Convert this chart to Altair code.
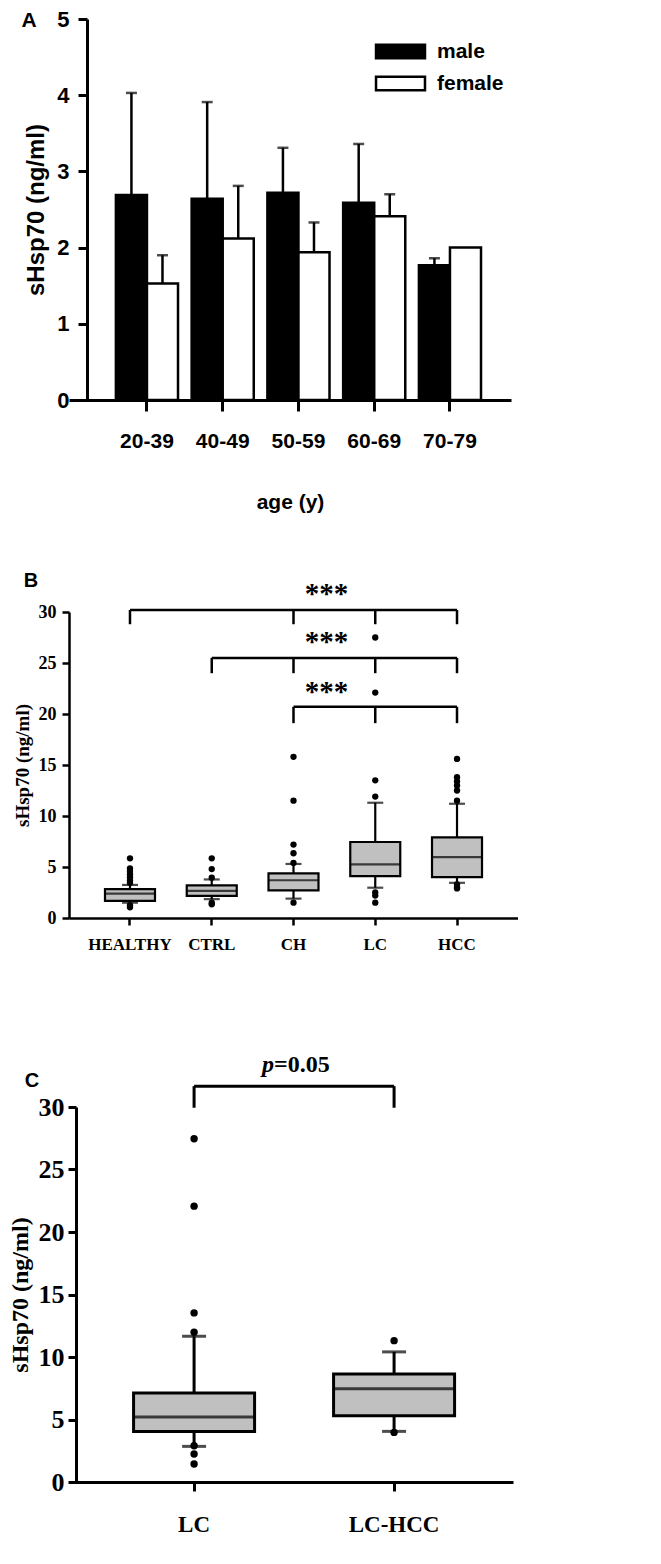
import altair as alt
import pandas as pd

SANS = "Liberation Sans, Arial, Helvetica, sans-serif"
SERIF = "Liberation Serif, Times New Roman, serif"

# ---------------- Panel A data ----------------
ages = ["20-39", "40-49", "50-59", "60-69", "70-79"]
sexes = ["male", "female"]
male_mean = [2.69, 2.64, 2.72, 2.59, 1.77]
male_upper = [4.03, 3.91, 3.31, 3.36, 1.86]
female_mean = [1.53, 2.12, 1.94, 2.41, 2.00]
female_upper = [1.90, 2.81, 2.33, 2.70, None]

# ---------------- Panel B data ----------------
groups_b = ["HEALTHY", "CTRL", "CH", "LC", "HCC"]
q1_b = [1.67, 2.16, 2.70, 4.10, 4.00]
med_b = [2.38, 2.65, 3.70, 5.26, 5.97]
q3_b = [2.84, 3.20, 4.37, 7.45, 7.90]
wlo_b = [1.50, 1.85, 1.90, 2.97, 3.45]
whi_b = [3.24, 3.78, 5.30, 11.30, 11.20]
out_healthy = [5.85, 4.85, 4.60, 4.30, 4.00, 3.70, 3.45, 1.25, 1.05]
out_ctrl = [5.85, 4.80, 3.95, 1.50, 1.35]
out_ch = [15.8, 11.5, 7.20, 6.35, 5.40, 1.50]
out_lc = [27.5, 22.1, 13.5, 11.9, 2.50, 2.20, 1.50]
out_hcc = [15.6, 13.8, 13.4, 13.0, 12.5, 11.5, 3.30, 3.00, 2.90]
brk_start_b = ["HEALTHY", "CTRL", "CH"]
brk_level_b = [30.2, 25.5, 20.7]
brk_drop_b = [28.8, 24.0, 19.1]
brk_members_b = [["HEALTHY", "CH", "LC", "HCC"], ["CTRL", "CH", "LC", "HCC"], ["CH", "LC", "HCC"]]
star_y_b = [31.8, 27.1, 22.2]

# ---------------- Panel C data ----------------
groups_c = ["LC", "LC-HCC"]
q1_c = [4.05, 5.31]
med_c = [5.20, 7.47]
q3_c = [7.13, 8.65]
wlo_c = [2.85, 4.05]
whi_c = [11.66, 10.41]
out_lc_c = [27.46, 22.07, 13.53, 11.98, 2.90, 2.24, 1.44]
out_lchcc_c = [11.31, 3.97]
brk_level_c = 31.67
brk_drop_c = 29.94
pval_y_c = 33.4

# ======================= Panel A =======================
rows_a = []
for i, a in enumerate(ages):
    rows_a.append({"age": a, "sex": "male", "mean": male_mean[i], "upper": male_upper[i]})
    rows_a.append({"age": a, "sex": "female", "mean": female_mean[i], "upper": female_upper[i]})
df_a = pd.DataFrame(rows_a)
df_a_err = df_a.dropna(subset=["upper"])

xa = alt.X("age:N", sort=ages,
           scale=alt.Scale(domain=ages, paddingInner=0.18, paddingOuter=0.5075, align=0.61),
           axis=alt.Axis(title="age (y)", labelAngle=0, labelFont=SANS, labelFontSize=21,
                         labelFontWeight="bold", labelColor="black", labelPadding=19,
                         tickSize=11, tickWidth=3, tickColor="black", domainColor="black",
                         domainWidth=3, titleFont=SANS, titleFontSize=21, titleFontWeight="bold",
                         titleColor="black", titlePadding=40, grid=False))
xoa = alt.XOffset("sex:N", sort=sexes, scale=alt.Scale(domain=sexes, paddingInner=0, paddingOuter=0))
ya_axis = alt.Axis(title="sHsp70 (ng/ml)", values=[0, 1, 2, 3, 4, 5], format="d", offset=-18,
                   labelFont=SANS, labelFontSize=22, labelFontWeight="bold", labelColor="black",
                   labelPadding=9, tickSize=9, tickWidth=3, tickColor="black", domainColor="black",
                   domainWidth=3, titleFont=SANS, titleFontSize=24, titleFontWeight="bold",
                   titleColor="black", titlePadding=8, grid=False)
ya = alt.Y("mean:Q", scale=alt.Scale(domain=[0, 5], nice=False), axis=ya_axis)

color_a = alt.Color("sex:N", sort=sexes,
                    scale=alt.Scale(domain=sexes, range=["black", "white"]),
                    legend=alt.Legend(title=None, orient="none", legendX=318, legendY=19,
                                      symbolType="M-2.04,-0.57H2.04V0.57H-2.04Z", symbolSize=576,
                                      symbolStrokeColor="black", symbolStrokeWidth=2.5,
                                      labelFont=SANS, labelFontSize=21, labelFontWeight="bold",
                                      labelColor="black", labelOffset=23, rowPadding=6,
                                      padding=0))

bars_a = alt.Chart(df_a).mark_bar(stroke="black", strokeWidth=2.5).encode(
    x=xa, xOffset=xoa, y=ya, color=color_a)
err_a = alt.Chart(df_a_err).mark_rule(color="black", strokeWidth=2.5).encode(
    x=xa, xOffset=xoa, y=alt.Y("mean:Q"), y2="upper:Q")
cap_a = alt.Chart(df_a_err).mark_tick(color="black", thickness=2.5, size=11).encode(
    x=xa, xOffset=xoa, y=alt.Y("upper:Q"))
lab_a = alt.Chart(pd.DataFrame({"t": ["A"]})).mark_text(
    font=SANS, fontSize=21, fontWeight="bold", color="black", baseline="middle", align="center"
).encode(text="t:N", x=alt.value(-40), y=alt.value(2))

panel_a = alt.layer(bars_a, err_a, cap_a, lab_a).properties(width=442, height=381)

# ======================= Box plot helper =======================
def box_panel(groups, q1, med, q3, wlo, whi, outs, box_w, cap_w, med_w, dot_size, stroke_w,
              x_axis, y_axis, x_scale):
    df = pd.DataFrame({"g": groups, "q1": q1, "med": med, "q3": q3, "wlo": wlo, "whi": whi})
    pts = []
    for g, vals in zip(groups, outs):
        for v in vals:
            pts.append({"g": g, "v": v})
    dfp = pd.DataFrame(pts)
    x = alt.X("g:N", sort=groups, scale=x_scale, axis=x_axis)
    y = alt.Y("q1:Q", scale=alt.Scale(domain=[0, 30], nice=False), axis=y_axis)
    whisk_hi = alt.Chart(df).mark_rule(color="black", strokeWidth=stroke_w).encode(
        x=x, y=alt.Y("q3:Q"), y2="whi:Q")
    whisk_lo = alt.Chart(df).mark_rule(color="black", strokeWidth=stroke_w).encode(
        x=x, y=alt.Y("wlo:Q"), y2="q1:Q")
    box = alt.Chart(df).mark_bar(size=box_w, fill="#c0c0c0", stroke="black",
                                 strokeWidth=stroke_w).encode(x=x, y=y, y2="q3:Q")
    median = alt.Chart(df).mark_tick(color="black", thickness=stroke_w, size=med_w).encode(
        x=x, y=alt.Y("med:Q"))
    cap_hi = alt.Chart(df).mark_tick(color="black", thickness=stroke_w, size=cap_w).encode(
        x=x, y=alt.Y("whi:Q"))
    cap_lo = alt.Chart(df).mark_tick(color="black", thickness=stroke_w, size=cap_w).encode(
        x=x, y=alt.Y("wlo:Q"))
    dots = alt.Chart(dfp).mark_circle(size=dot_size, color="black", opacity=1).encode(
        x=x, y=alt.Y("v:Q"))
    return [whisk_hi, whisk_lo, box, median, cap_hi, cap_lo, dots]

# ======================= Panel B =======================
xb_axis = alt.Axis(title=None, labelAngle=0, labelFont=SERIF, labelFontSize=17, labelFontWeight="bold",
                   labelColor="black", labelPadding=11, tickSize=7, tickWidth=2.5, tickColor="black",
                   domainColor="black", domainWidth=2.5, grid=False)
yb_axis = alt.Axis(title="sHsp70 (ng/ml)", values=[0, 5, 10, 15, 20, 25, 30], format="d",
                   labelFont=SERIF, labelFontSize=18, labelFontWeight="bold", labelColor="black",
                   labelPadding=6, tickSize=7, tickWidth=2.5, tickColor="black", domainColor="black",
                   domainWidth=2.5, titleFont=SERIF, titleFontSize=19, titleFontWeight="bold",
                   titleColor="black", titlePadding=6, grid=False)
xb_scale = alt.Scale(domain=groups_b, paddingInner=0, paddingOuter=0.246)
layers_b = box_panel(groups_b, q1_b, med_b, q3_b, wlo_b, whi_b,
                     [out_healthy, out_ctrl, out_ch, out_lc, out_hcc],
                     box_w=50, cap_w=16, med_w=50, dot_size=40, stroke_w=2.2,
                     x_axis=xb_axis, y_axis=yb_axis, x_scale=xb_scale)

hb_rows, vb_rows, sb_rows = [], [], []
for i in range(3):
    hb_rows.append({"g": brk_start_b[i], "g2": "HCC", "lev": brk_level_b[i]})
    for m in brk_members_b[i]:
        vb_rows.append({"g": m, "lev": brk_level_b[i], "drop": brk_drop_b[i]})
    sb_rows.append({"g": "CH", "sy": star_y_b[i], "s": "***"})
brk_h_b = alt.Chart(pd.DataFrame(hb_rows)).mark_rule(color="black", strokeWidth=2.5).encode(
    x=alt.X("g:N", scale=xb_scale), x2="g2:N", y=alt.Y("lev:Q"))
brk_v_b = alt.Chart(pd.DataFrame(vb_rows)).mark_rule(color="black", strokeWidth=2.5).encode(
    x=alt.X("g:N", scale=xb_scale), y=alt.Y("lev:Q"), y2="drop:Q")
stars_b = alt.Chart(pd.DataFrame(sb_rows)).mark_text(
    font=SERIF, fontSize=29, fontWeight="bold", color="black", baseline="middle", dx=33
).encode(x=alt.X("g:N", scale=xb_scale), y=alt.Y("sy:Q"), text="s:N")
lab_b = alt.Chart(pd.DataFrame({"t": ["B"]})).mark_text(
    font=SANS, fontSize=20, fontWeight="bold", color="black", baseline="middle", align="center"
).encode(text="t:N", x=alt.value(-38), y=alt.value(-31))

panel_b = alt.layer(*layers_b, brk_h_b, brk_v_b, stars_b, lab_b).properties(width=449, height=306)

# ======================= Panel C =======================
xc_axis = alt.Axis(title=None, labelAngle=0, labelFont=SERIF, labelFontSize=23, labelFontWeight="bold",
                   labelColor="black", labelPadding=22, tickSize=9, tickWidth=3, tickColor="black",
                   domainColor="black", domainWidth=3, grid=False)
yc_axis = alt.Axis(title="sHsp70 (ng/ml)", values=[0, 5, 10, 15, 20, 25, 30], format="d", offset=-7,
                   labelFont=SERIF, labelFontSize=26, labelFontWeight="bold", labelColor="black",
                   labelPadding=4, tickSize=8, tickWidth=3, tickColor="black", domainColor="black",
                   domainWidth=3, titleFont=SERIF, titleFontSize=24, titleFontWeight="bold",
                   titleColor="black", titlePadding=6, grid=False)
xc_scale = alt.Scale(domain=groups_c, paddingInner=0, paddingOuter=0.11, align=0.57)
layers_c = box_panel(groups_c, q1_c, med_c, q3_c, wlo_c, whi_c,
                     [out_lc_c, out_lchcc_c],
                     box_w=121, cap_w=24, med_w=121, dot_size=55, stroke_w=3,
                     x_axis=xc_axis, y_axis=yc_axis, x_scale=xc_scale)
brk_h_c = alt.Chart(pd.DataFrame({"g": ["LC"], "g2": ["LC-HCC"], "lev": [brk_level_c]})).mark_rule(
    color="black", strokeWidth=3).encode(x=alt.X("g:N", scale=xc_scale), x2="g2:N", y=alt.Y("lev:Q"))
brk_v_c = alt.Chart(pd.DataFrame({"g": groups_c, "lev": [brk_level_c] * 2, "drop": [brk_drop_c] * 2})).mark_rule(
    color="black", strokeWidth=3).encode(x=alt.X("g:N", scale=xc_scale), y=alt.Y("lev:Q"), y2="drop:Q")
pdf = pd.DataFrame({"g": ["LC"], "py": [pval_y_c], "p": ["p"], "rest": ["=0.05"]})
p_it = alt.Chart(pdf).mark_text(font=SERIF, fontSize=24, fontWeight="bold", fontStyle="italic",
                                color="black", baseline="middle", align="right", dx=80).encode(
    x=alt.X("g:N", scale=xc_scale), y=alt.Y("py:Q"), text="p:N")
p_rest = alt.Chart(pdf).mark_text(font=SERIF, fontSize=24, fontWeight="bold",
                                  color="black", baseline="middle", align="left", dx=80).encode(
    x=alt.X("g:N", scale=xc_scale), y=alt.Y("py:Q"), text="rest:N")
lab_c = alt.Chart(pd.DataFrame({"t": ["C"]})).mark_text(
    font=SANS, fontSize=20, fontWeight="bold", color="black", baseline="middle", align="center"
).encode(text="t:N", x=alt.value(-37), y=alt.value(-26))

panel_c = alt.layer(*layers_c, brk_h_c, brk_v_c, p_it, p_rest, lab_c).properties(width=444, height=375)

chart = alt.vconcat(alt.vconcat(panel_a, panel_b, spacing=59), panel_c, spacing=100).properties(
    padding=0).configure_view(stroke=None)

chart.save("out.html", embed_options={"renderer": "svg", "actions": False})
